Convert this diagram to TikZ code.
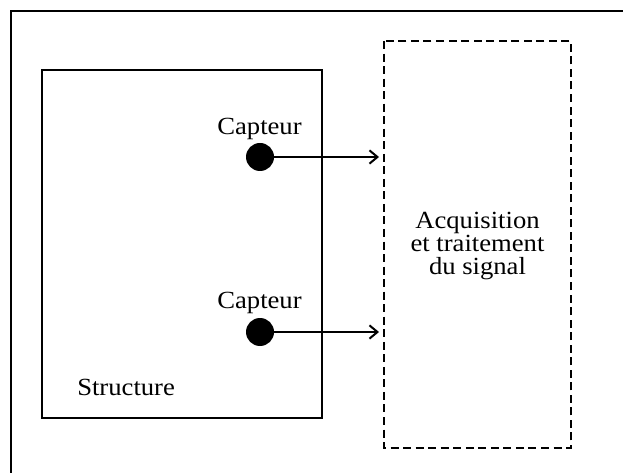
\documentclass[tikz,border=0pt]{standalone}
\usepackage{fontspec}
\setmainfont{Liberation Serif}[FakeStretch=1.08]
\usetikzlibrary{arrows.meta}
\begin{document}
\begin{tikzpicture}[x=0.75pt,y=-0.75pt,
  frame/.style={line width=2pt},
  dashframe/.style={line width=2.2pt,dash pattern=on 6pt off 3.4pt},
  lbl/.style={font=\fontsize{18.5}{17.6}\selectfont,inner sep=0pt},
  sensor/.style={circle,fill=black,minimum size=21pt,inner sep=0pt},
  conn/.style={line width=1.5pt,-{Straight Barb[length=6pt,width=10pt,line width=1.5pt]}}]
\useasboundingbox (0,0) rectangle (623,473);
\begin{scope}
\clip (0,0) rectangle (623,473);
\draw[frame] (11,11) rectangle (640,490);
\end{scope}
\draw[frame] (42,70) rectangle (322,418);
\draw[dashframe] (384,41) rectangle (571,448);
\node[lbl,align=center,anchor=base] (acq) at (477.5,275) {Acquisition\\et traitement\\du signal};
\node[lbl,anchor=base west] (str) at (77,395) {Structure};
\node[sensor] (s1) at (260,157) {};
\node[sensor] (s2) at (260,332) {};
\node[lbl,anchor=base] (c1) at (259.5,135) {Capteur};
\node[lbl,anchor=base] (c2) at (259.5,309) {Capteur};
\coordinate (e1) at (379,157);
\coordinate (e2) at (379,332);
\draw[conn] (s1) -- (e1);
\draw[conn] (s2) -- (e2);
\end{tikzpicture}
\end{document}
